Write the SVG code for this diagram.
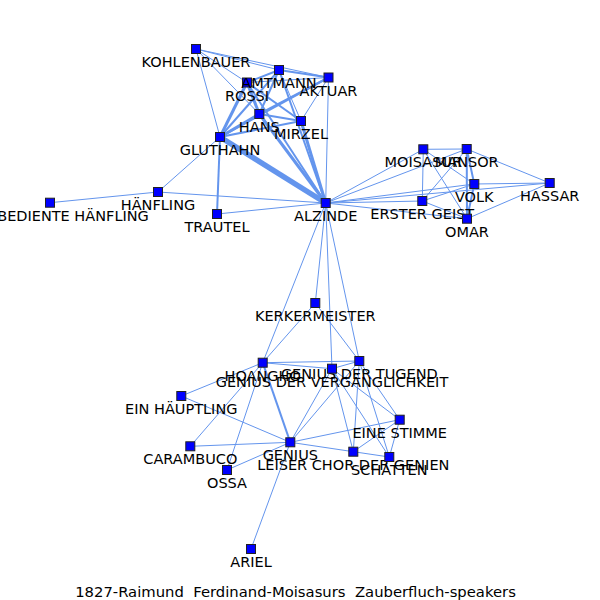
<svg xmlns="http://www.w3.org/2000/svg" width="600" height="600" viewBox="0 0 600 600">
<style>
.e{stroke:#6495ED;fill:none;stroke-linecap:butt}
.w1{stroke-width:1}
.w2{stroke-width:2}
.w3{stroke-width:3}
.w5{stroke-width:5.5}
.n rect{fill:#0000ff;stroke:#222;stroke-width:1}
text{font-family:"DejaVu Sans",sans-serif;font-size:14.5px;fill:#000;text-anchor:middle}
</style>
<rect width="600" height="600" fill="#fff"/>
<g id="edges">
<line class="e w1" x1="196" y1="49" x2="279" y2="70"/>
<line class="e w1" x1="196" y1="49" x2="328.5" y2="77.5"/>
<line class="e w1" x1="196" y1="49" x2="247" y2="82.5"/>
<line class="e w1" x1="196" y1="49" x2="259.3" y2="114"/>
<line class="e w1" x1="196" y1="49" x2="220" y2="137"/>
<line class="e w2" x1="279" y1="70" x2="328.5" y2="77.5"/>
<line class="e w2" x1="279" y1="70" x2="247" y2="82.5"/>
<line class="e w2" x1="279" y1="70" x2="259.3" y2="114"/>
<line class="e w1" x1="279" y1="70" x2="301" y2="121"/>
<line class="e w2" x1="279" y1="70" x2="220" y2="137"/>
<line class="e w2" x1="279" y1="70" x2="325.7" y2="203"/>
<line class="e w1" x1="328.5" y1="77.5" x2="247" y2="82.5"/>
<line class="e w2" x1="328.5" y1="77.5" x2="259.3" y2="114"/>
<line class="e w1" x1="328.5" y1="77.5" x2="301" y2="121"/>
<line class="e w2" x1="328.5" y1="77.5" x2="220" y2="137"/>
<line class="e w1" x1="328.5" y1="77.5" x2="325.7" y2="203"/>
<line class="e w3" x1="247" y1="82.5" x2="259.3" y2="114"/>
<line class="e w2" x1="247" y1="82.5" x2="301" y2="121"/>
<line class="e w3" x1="247" y1="82.5" x2="220" y2="137"/>
<line class="e w2" x1="247" y1="82.5" x2="325.7" y2="203"/>
<line class="e w2" x1="259.3" y1="114" x2="301" y2="121"/>
<line class="e w3" x1="259.3" y1="114" x2="220" y2="137"/>
<line class="e w3" x1="259.3" y1="114" x2="325.7" y2="203"/>
<line class="e w2" x1="301" y1="121" x2="220" y2="137"/>
<line class="e w3" x1="301" y1="121" x2="325.7" y2="203"/>
<line class="e w5" x1="220" y1="137" x2="325.7" y2="203"/>
<line class="e w2" x1="220" y1="137" x2="217" y2="214"/>
<line class="e w1" x1="220" y1="137" x2="158" y2="192"/>
<line class="e w1" x1="217" y1="214" x2="325.7" y2="203"/>
<line class="e w1" x1="158" y1="192" x2="325.7" y2="203"/>
<line class="e w1" x1="158" y1="192" x2="50" y2="202.7"/>
<line class="e w1" x1="325.7" y1="203" x2="423.3" y2="149.3"/>
<line class="e w1" x1="325.7" y1="203" x2="466.7" y2="149"/>
<line class="e w1" x1="325.7" y1="203" x2="474.3" y2="184"/>
<line class="e w1" x1="325.7" y1="203" x2="549.7" y2="183"/>
<line class="e w1" x1="325.7" y1="203" x2="422.3" y2="201"/>
<line class="e w1" x1="325.7" y1="203" x2="467" y2="218.7"/>
<line class="e w1" x1="423.3" y1="149.3" x2="466.7" y2="149"/>
<line class="e w1" x1="423.3" y1="149.3" x2="474.3" y2="184"/>
<line class="e w1" x1="423.3" y1="149.3" x2="422.3" y2="201"/>
<line class="e w1" x1="423.3" y1="149.3" x2="467" y2="218.7"/>
<line class="e w2" x1="466.7" y1="149" x2="474.3" y2="184"/>
<line class="e w2" x1="466.7" y1="149" x2="467" y2="218.7"/>
<line class="e w1" x1="466.7" y1="149" x2="549.7" y2="183"/>
<line class="e w1" x1="466.7" y1="149" x2="422.3" y2="201"/>
<line class="e w2" x1="474.3" y1="184" x2="467" y2="218.7"/>
<line class="e w1" x1="474.3" y1="184" x2="549.7" y2="183"/>
<line class="e w1" x1="474.3" y1="184" x2="422.3" y2="201"/>
<line class="e w1" x1="467" y1="218.7" x2="549.7" y2="183"/>
<line class="e w1" x1="467" y1="218.7" x2="422.3" y2="201"/>
<line class="e w1" x1="325.7" y1="203" x2="315.3" y2="303"/>
<line class="e w1" x1="325.7" y1="203" x2="262.7" y2="362.7"/>
<line class="e w1" x1="325.7" y1="203" x2="332" y2="368.7"/>
<line class="e w1" x1="325.7" y1="203" x2="359.3" y2="361"/>
<line class="e w1" x1="315.3" y1="303" x2="262.7" y2="362.7"/>
<line class="e w1" x1="315.3" y1="303" x2="359.3" y2="361"/>
<line class="e w1" x1="262.7" y1="362.7" x2="359.3" y2="361"/>
<line class="e w1" x1="262.7" y1="362.7" x2="332" y2="368.7"/>
<line class="e w1" x1="332" y1="368.7" x2="359.3" y2="361"/>
<line class="e w1" x1="262.7" y1="362.7" x2="181.3" y2="396"/>
<line class="e w1" x1="262.7" y1="362.7" x2="190.3" y2="446.3"/>
<line class="e w1" x1="262.7" y1="362.7" x2="227" y2="470"/>
<line class="e w2" x1="262.7" y1="362.7" x2="290.3" y2="442.3"/>
<line class="e w1" x1="181.3" y1="396" x2="290.3" y2="442.3"/>
<line class="e w1" x1="190.3" y1="446.3" x2="290.3" y2="442.3"/>
<line class="e w1" x1="227" y1="470" x2="290.3" y2="442.3"/>
<line class="e w1" x1="290.3" y1="442.3" x2="399.7" y2="419.7"/>
<line class="e w1" x1="290.3" y1="442.3" x2="353.3" y2="451.7"/>
<line class="e w1" x1="353.3" y1="451.7" x2="389.3" y2="457"/>
<line class="e w1" x1="290.3" y1="442.3" x2="332" y2="368.7"/>
<line class="e w1" x1="290.3" y1="442.3" x2="359.3" y2="361"/>
<line class="e w1" x1="290.3" y1="442.3" x2="251" y2="549"/>
<line class="e w1" x1="332" y1="368.7" x2="353.3" y2="451.7"/>
<line class="e w1" x1="332" y1="368.7" x2="389.3" y2="457"/>
<line class="e w1" x1="332" y1="368.7" x2="399.7" y2="419.7"/>
<line class="e w1" x1="359.3" y1="361" x2="353.3" y2="451.7"/>
<line class="e w1" x1="359.3" y1="361" x2="389.3" y2="457"/>
<line class="e w1" x1="359.3" y1="361" x2="399.7" y2="419.7"/>
<line class="e w1" x1="399.7" y1="419.7" x2="353.3" y2="451.7"/>
<line class="e w1" x1="399.7" y1="419.7" x2="389.3" y2="457"/>
</g>
<g id="n-kohlenbauer" class="n"><rect x="191.5" y="44.5" width="9" height="9"/><text x="196" y="67">KOHLENBAUER</text></g>
<g id="n-rossi" class="n"><rect x="242.5" y="78" width="9" height="9"/><text x="247" y="100.5">ROSSI</text></g>
<g id="n-amtmann" class="n"><rect x="274.5" y="65.5" width="9" height="9"/><text x="279" y="88">AMTMANN</text></g>
<g id="n-aktuar" class="n"><rect x="324" y="73" width="9" height="9"/><text x="328.5" y="95.5">AKTUAR</text></g>
<g id="n-hans" class="n"><rect x="254.8" y="109.5" width="9" height="9"/><text x="259.3" y="132">HANS</text></g>
<g id="n-mirzel" class="n"><rect x="296.5" y="116.5" width="9" height="9"/><text x="301" y="139">MIRZEL</text></g>
<g id="n-gluthahn" class="n"><rect x="215.5" y="132.5" width="9" height="9"/><text x="220" y="155">GLUTHAHN</text></g>
<g id="n-alzinde" class="n"><rect x="321.2" y="198.5" width="9" height="9"/><text x="325.7" y="221">ALZINDE</text></g>
<g id="n-trautel" class="n"><rect x="212.5" y="209.5" width="9" height="9"/><text x="217" y="232">TRAUTEL</text></g>
<g id="n-haenfling" class="n"><rect x="153.5" y="187.5" width="9" height="9"/><text x="158" y="210">HÄNFLING</text></g>
<g id="n-bediente" class="n"><rect x="45.5" y="198.2" width="9" height="9"/><text x="73" y="220.7">BEDIENTE HÄNFLING</text></g>
<g id="n-moisasur" class="n"><rect x="418.8" y="144.8" width="9" height="9"/><text x="423.3" y="167.3">MOISASUR</text></g>
<g id="n-mansor" class="n"><rect x="462.2" y="144.5" width="9" height="9"/><text x="466.7" y="167">MANSOR</text></g>
<g id="n-volk" class="n"><rect x="469.8" y="179.5" width="9" height="9"/><text x="474.3" y="202">VOLK</text></g>
<g id="n-hassar" class="n"><rect x="545.2" y="178.5" width="9" height="9"/><text x="549.7" y="201">HASSAR</text></g>
<g id="n-erster-geist" class="n"><rect x="417.8" y="196.5" width="9" height="9"/><text x="422.3" y="219">ERSTER GEIST</text></g>
<g id="n-omar" class="n"><rect x="462.5" y="214.2" width="9" height="9"/><text x="467" y="236.7">OMAR</text></g>
<g id="n-kerkermeister" class="n"><rect x="310.8" y="298.5" width="9" height="9"/><text x="315.3" y="321">KERKERMEISTER</text></g>
<g id="n-hoangho" class="n"><rect x="258.2" y="358.2" width="9" height="9"/><text x="262.7" y="380.7">HOANGHO</text></g>
<g id="n-genius-tugend" class="n"><rect x="354.8" y="356.5" width="9" height="9"/><text x="359.3" y="379">GENIUS DER TUGEND</text></g>
<g id="n-genius-verg" class="n"><rect x="327.5" y="364.2" width="9" height="9"/><text x="332" y="386.7">GENIUS DER VERGÄNGLICHKEIT</text></g>
<g id="n-ein-haeuptling" class="n"><rect x="176.8" y="391.5" width="9" height="9"/><text x="181.3" y="414">EIN HÄUPTLING</text></g>
<g id="n-eine-stimme" class="n"><rect x="395.2" y="415.2" width="9" height="9"/><text x="399.7" y="437.7">EINE STIMME</text></g>
<g id="n-genius" class="n"><rect x="285.8" y="437.8" width="9" height="9"/><text x="290.3" y="460.3">GENIUS</text></g>
<g id="n-carambuco" class="n"><rect x="185.8" y="441.8" width="9" height="9"/><text x="190.3" y="464.3">CARAMBUCO</text></g>
<g id="n-ossa" class="n"><rect x="222.5" y="465.5" width="9" height="9"/><text x="227" y="488">OSSA</text></g>
<g id="n-leiser-chor" class="n"><rect x="348.8" y="447.2" width="9" height="9"/><text x="353.3" y="469.7">LEISER CHOR DER GENIEN</text></g>
<g id="n-schatten" class="n"><rect x="384.8" y="452.5" width="9" height="9"/><text x="389.3" y="475">SCHATTEN</text></g>
<g id="n-ariel" class="n"><rect x="246.5" y="544.5" width="9" height="9"/><text x="251" y="567">ARIEL</text></g>
<text x="295.5" y="597" style="white-space:pre;font-size:14.8px" xml:space="preserve">1827-Raimund  Ferdinand-Moisasurs  Zauberfluch-speakers</text>
</svg>
